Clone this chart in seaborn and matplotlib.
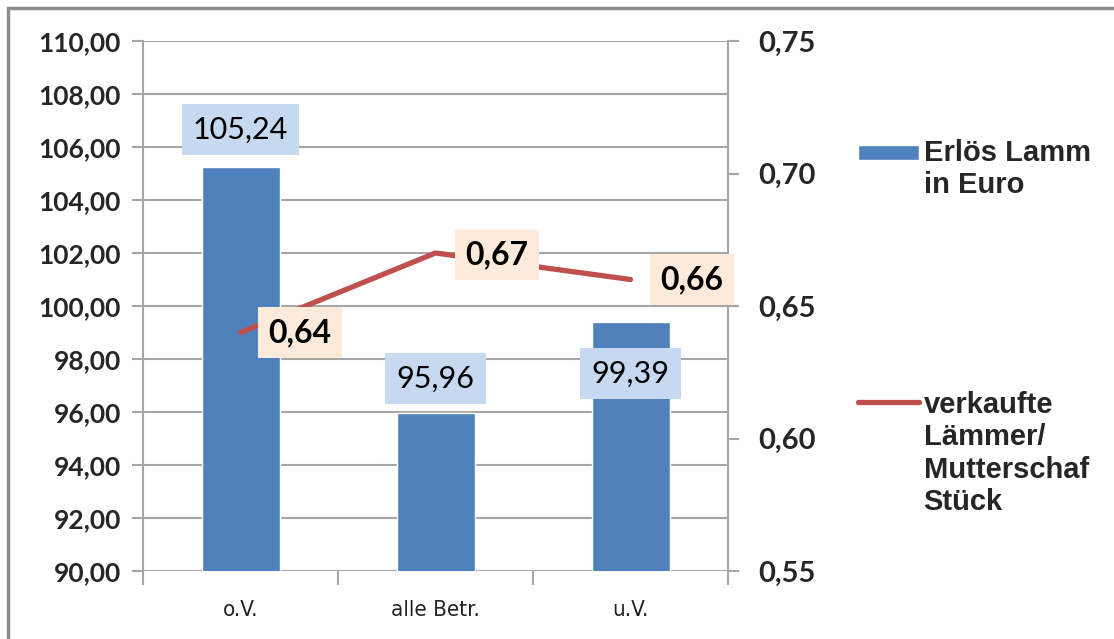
import matplotlib
matplotlib.use("Agg")

import matplotlib.pyplot as plt
import seaborn as sns
import pandas as pd
from matplotlib.patches import Rectangle
from matplotlib.ticker import FixedLocator, FuncFormatter
from matplotlib.legend_handler import HandlerPatch, HandlerLine2D

categories = ["o.V.", "alle Betr.", "u.V."]
erloes = [105.24, 95.96, 99.39]
laemmer = [0.64, 0.67, 0.66]

bar_label = "Erlös Lamm\nin Euro"
line_label = "verkaufte\nLämmer/\nMutterschaf\nStück"

left_ticks = [90, 92, 94, 96, 98, 100, 102, 104, 106, 108, 110]
right_ticks = [0.55, 0.60, 0.65, 0.70, 0.75]

df = pd.DataFrame({"kat": categories, "erloes": erloes, "laemmer": laemmer})

sns.set_theme(style="white")
plt.rcParams["font.family"] = ["Liberation Sans", "DejaVu Sans"]

bar_color = "#4F81BD"
line_color = "#C0504D"
grid_color = "#A6A6A6"
label_font = ["Lato", "DejaVu Sans"]


def de_fmt(v, _pos=None):
    return f"{v:.2f}".replace(".", ",")


# legend handles moved up so they sit beside the first text line
class ShiftedPatch(HandlerPatch):
    def __init__(self, shift, **kw):
        super().__init__(**kw)
        self.shift = shift

    def create_artists(self, legend, orig_handle, xdescent, ydescent, width,
                       height, fontsize, trans):
        return super().create_artists(legend, orig_handle, xdescent,
                                       ydescent - self.shift, width, height,
                                       fontsize, trans)


class ShiftedLine(HandlerLine2D):
    def __init__(self, shift, **kw):
        super().__init__(**kw)
        self.shift = shift

    def create_artists(self, legend, orig_handle, xdescent, ydescent, width,
                       height, fontsize, trans):
        return super().create_artists(legend, orig_handle, xdescent,
                                      ydescent - 2 * self.shift, width, height,
                                      fontsize, trans)


fig = plt.figure(figsize=(11.14, 6.39), dpi=100)
fig.patch.set_facecolor("white")
fig.patches.append(Rectangle((8 / 1114, -0.1), 1.2, (639 - 8) / 639 + 0.1,
                             transform=fig.transFigure, fill=False,
                             edgecolor="#8C8C8C", linewidth=2.5))

ax = fig.add_axes([143 / 1114, 68 / 639, 585 / 1114, 530 / 639])

sns.barplot(data=df, x="kat", y="erloes", color=bar_color, width=0.4,
            saturation=1, ax=ax, label=bar_label, zorder=2)
ax.set_ylim(90, 110)
ax.set_xlim(-0.5, 2.5)
ax.set_yticks(left_ticks)
ax.yaxis.set_major_formatter(FuncFormatter(de_fmt))
ax.yaxis.grid(True, color=grid_color, linewidth=1.5, zorder=0)
ax.set_axisbelow(True)
ax.set_xlabel("")
ax.set_ylabel("")

for side in ["top", "right", "bottom"]:
    ax.spines[side].set_visible(False)
ax.spines["left"].set_color(grid_color)
ax.spines["left"].set_linewidth(1.5)

ax.tick_params(axis="y", which="major", left=True, length=8, width=1.5,
               color=grid_color, labelsize=19, pad=8)
for t in ax.get_yticklabels():
    t.set_fontweight("bold")
    t.set_fontfamily(label_font)

ax.tick_params(axis="x", which="major", length=0, labelsize=16, pad=21,
               labelcolor="#222222")
ax.xaxis.set_minor_locator(FixedLocator([-0.5, 0.5, 1.5, 2.5]))
ax.tick_params(axis="x", which="minor", bottom=True, length=10, width=1.5,
               color=grid_color)
for t in ax.get_xticklabels():
    t.set_fontfamily(["DejaVu Sans"])
    t.set_fontstretch("condensed")

ax2 = ax.twinx()
sns.lineplot(data=df, x="kat", y="laemmer", color=line_color, linewidth=3.8,
             ax=ax2, label=line_label, sort=False)
ax2.set_ylim(0.55, 0.75)
ax2.set_yticks(right_ticks)
ax2.yaxis.set_major_formatter(FuncFormatter(de_fmt))
ax2.set_ylabel("")
ax2.set_xlabel("")
for side in ["top", "left", "bottom"]:
    ax2.spines[side].set_visible(False)
ax2.spines["right"].set_color(grid_color)
ax2.spines["right"].set_linewidth(1.5)
ax2.tick_params(axis="y", right=True, length=8, width=1.5, color=grid_color,
                labelsize=21, pad=14)
for t in ax2.get_yticklabels():
    t.set_fontweight("bold")
    t.set_fontfamily(label_font)

# data labels
bar_offsets = [(0, 27), (0, 25), (0, -37)]
for i, v in enumerate(erloes):
    ax.annotate(de_fmt(v), (i, v), xytext=bar_offsets[i],
                textcoords="offset points", ha="center", va="center",
                fontsize=22, family=label_font, color="black",
                bbox=dict(boxstyle="square,pad=0.37", facecolor="#C6D9F1",
                          edgecolor="none"), zorder=5)

line_offsets = [(43, 0), (44, -1.5), (44, 0)]
for i, v in enumerate(laemmer):
    ax2.annotate(de_fmt(v), (i, v), xytext=line_offsets[i],
                 textcoords="offset points", ha="center", va="center",
                 fontsize=23, fontweight="bold", family=label_font,
                 color="black",
                 bbox=dict(boxstyle="square,pad=0.33", facecolor="#FDEADA",
                           edgecolor="none"), zorder=5)

# legend
h1, l1 = ax.get_legend_handles_labels()
h2, l2 = ax2.get_legend_handles_labels()
if ax.get_legend() is not None:
    ax.get_legend().remove()
if ax2.get_legend() is not None:
    ax2.get_legend().remove()

bar_handle = h1[0].patches[0] if hasattr(h1[0], "patches") else h1[0]
leg_kw = dict(loc="upper left", frameon=False, borderpad=0, borderaxespad=0,
              handlelength=2.1, handletextpad=0.15,
              prop={"weight": "bold", "size": 21})
fig.legend([bar_handle], l1, bbox_to_anchor=(858 / 1114, 1 - 139 / 639),
           handleheight=0.4, handler_map={bar_handle: ShiftedPatch(12.6)},
           **leg_kw)
fig.legend(h2, l2, bbox_to_anchor=(858 / 1114, 1 - 391 / 639),
           handler_map={h2[0]: ShiftedLine(37.8)}, **leg_kw)

fig.savefig("out.png", dpi=100)
plt.close(fig)
